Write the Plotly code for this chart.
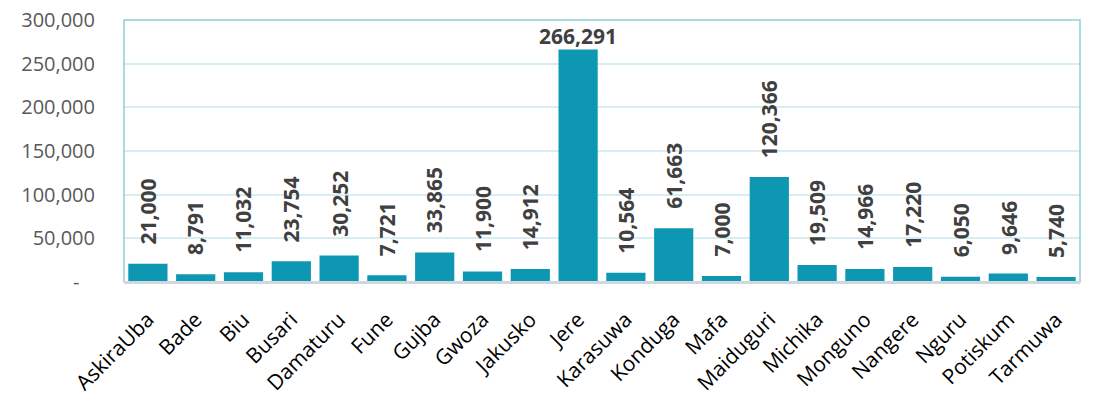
import plotly.graph_objects as go

categories = ["AskiraUba", "Bade", "Biu", "Busari", "Damaturu", "Fune", "Gujba", "Gwoza",
              "Jakusko", "Jere", "Karasuwa", "Konduga", "Mafa", "Maiduguri", "Michika",
              "Monguno", "Nangere", "Nguru", "Potiskum", "Tarmuwa"]
values = [21000, 8791, 11032, 23754, 30252, 7721, 33865, 11900, 14912, 266291,
          10564, 61663, 7000, 120366, 19509, 14966, 17220, 6050, 9646, 5740]
y_tickvals = [0, 50000, 100000, 150000, 200000, 250000, 300000]
y_ticktext = ["-\u00a0\u00a0\u00a0", "50,000", "100,000", "150,000", "200,000", "250,000", "300,000"]

BAR = "#0e97b2"
FONT = "Open Sans"

fig = go.Figure()
fig.add_trace(go.Bar(x=categories, y=values, marker=dict(color=BAR, line=dict(width=0)),
                     hoverinfo="x+y"))

for c, v in zip(categories, values):
    label = f"{v:,}"
    if v > 200000:
        fig.add_annotation(x=c, y=v, text=f"<b>{label}</b>", showarrow=False,
                           yanchor="bottom", xanchor="center", yshift=-3,
                           font=dict(family=FONT, size=21, color="#404040"))
    else:
        fig.add_annotation(x=c, y=v, text=f"<b>{label}</b>", showarrow=False,
                           yanchor="bottom", xanchor="center", textangle=-90, yshift=17,
                           font=dict(family=FONT, size=21, color="#404040"))

fig.update_layout(
    width=1102, height=403,
    margin=dict(l=124, r=22, t=20, b=121),
    paper_bgcolor="white", plot_bgcolor="white",
    bargap=0.18, showlegend=False,
    font=dict(family=FONT, color="#595959"),
)
fig.update_xaxes(tickangle=-45, tickfont=dict(family=FONT, size=21, color="#000000"),
                 showline=True, linecolor="#cfd8dc", linewidth=2, mirror=False,
                 showgrid=False, ticks="", automargin=False, ticklabelstandoff=15,
                 ticklabeloverflow="allow")
fig.update_yaxes(range=[0, 300000], tickvals=y_tickvals, ticktext=y_ticktext,
                 tickfont=dict(family=FONT, size=20, color="#595959"),
                 showgrid=True, gridcolor="#d6eef3", gridwidth=1.5,
                 showline=False, zeroline=False, ticks="", ticklabelstandoff=28,
                 automargin=False, ticklabeloverflow="allow")
# frame on left, top, right
fig.add_shape(type="rect", xref="paper", yref="paper", x0=0, x1=1, y0=0, y1=1,
              line=dict(color="#8ccfdc", width=1.5), layer="above")
fig.add_shape(type="line", xref="paper", yref="paper", x0=0, x1=1, y0=0, y1=0,
              line=dict(color="#cfd8dc", width=2), layer="above")

fig.write_html("out.html", config={"displayModeBar": False},
               post_script="document.body.style.margin='0';document.body.style.overflow='hidden';")
